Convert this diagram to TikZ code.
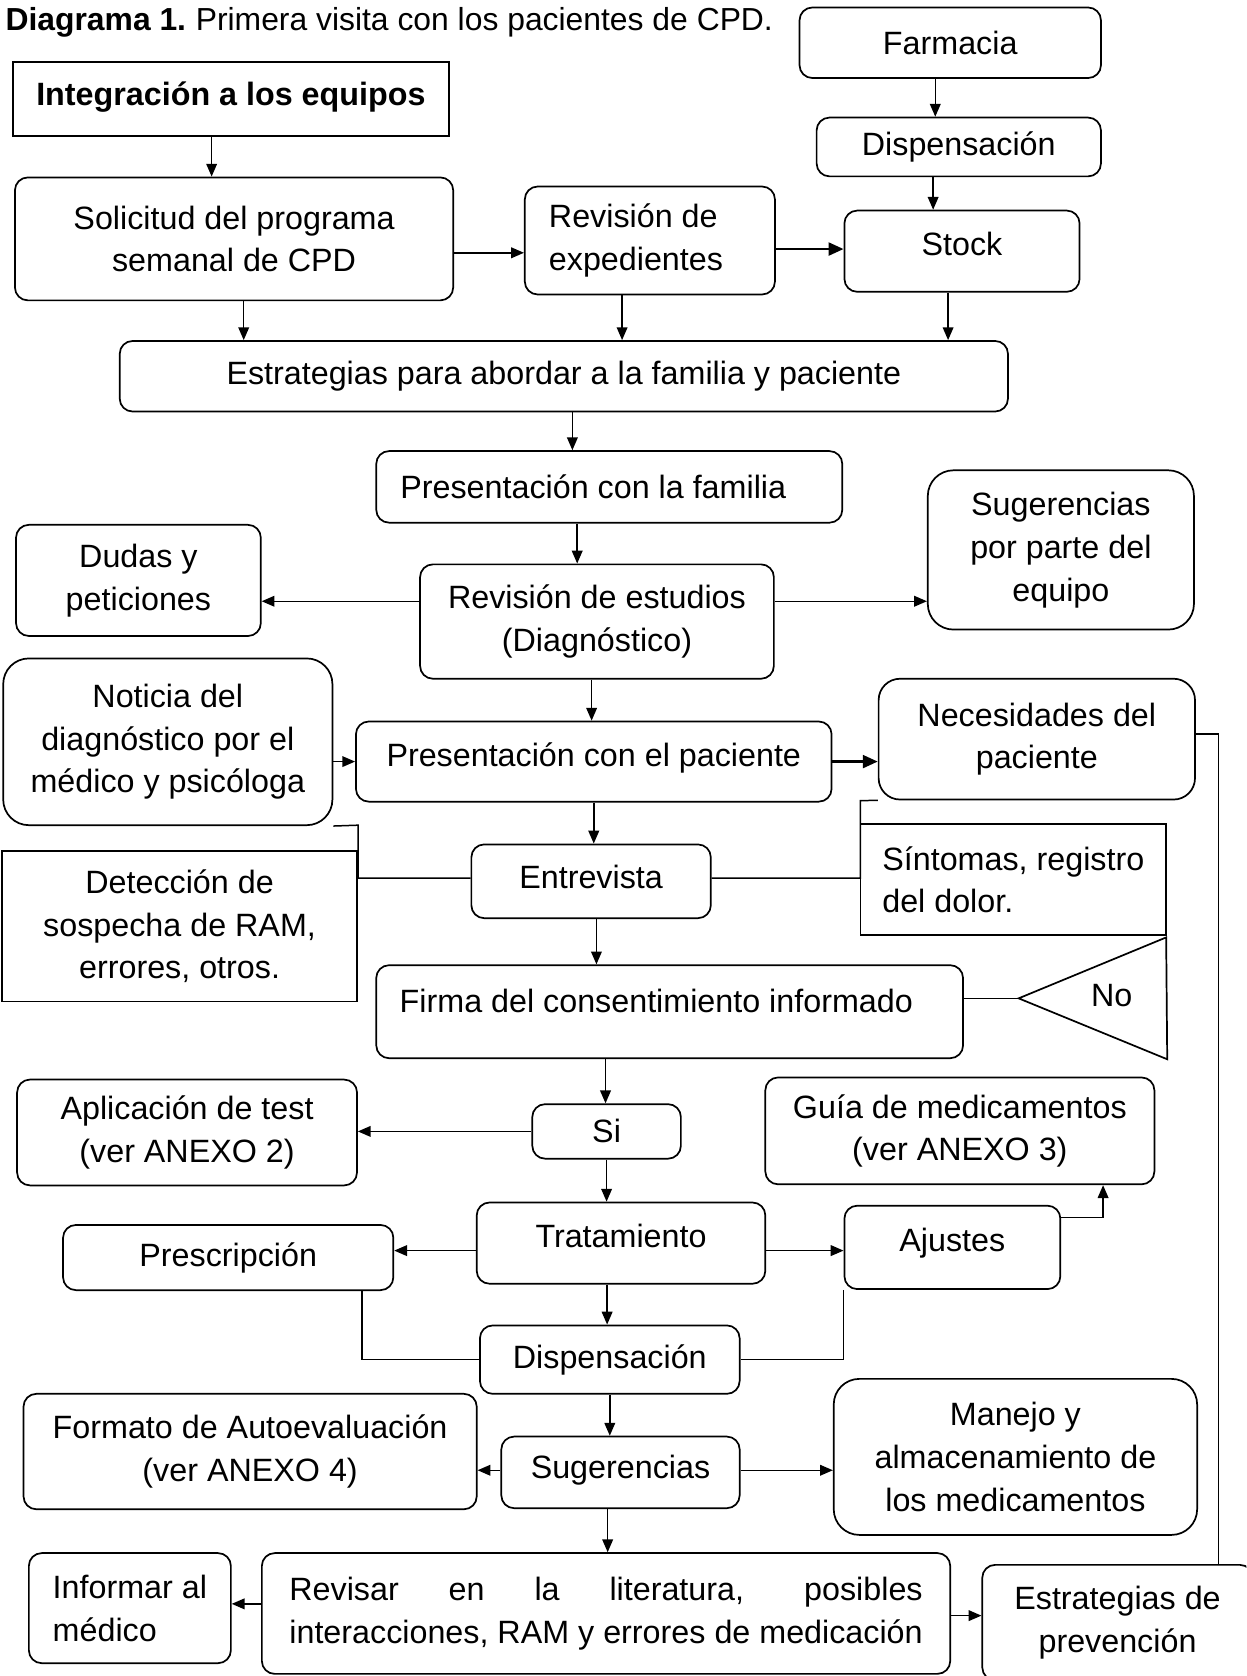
\documentclass[tikz,border=0pt]{standalone}
\usepackage{fontspec}
\setmainfont{Liberation Sans}
\usepackage{calc}
\usetikzlibrary{arrows.meta}

\tikzset{
    every node/.style={font=\fontsize{30.2pt}{40pt}\selectfont},
    box/.style={draw, line width=1.6pt, rounded corners=12pt, inner sep=0pt, align=center},
    bigbox/.style={box, rounded corners=24pt},
    sqbox/.style={draw, line width=1.6pt, inner sep=0pt, align=center},
    lift/.style={text height=22pt, text depth=#1},
    arr/.style={line width=1.4pt, -{Triangle[length=12pt, width=10pt]}},
    thickarr/.style={line width=2.6pt, -{Triangle[length=14pt, width=12pt]}},
    link/.style={line width=1.4pt}
}

\begin{document}
\begin{tikzpicture}[x=1pt, y=-1pt]
    \useasboundingbox (0,0) rectangle (1166,1568);
    \clip (0,0) rectangle (1166,1568);

    % Title
    \node[anchor=base west, inner sep=0pt, font=\fontsize{29.8pt}{40pt}\selectfont] (title) at (5,29) {\textbf{Diagrama 1.}\hspace{-2pt} Primera visita con los pacientes de CPD.};

    % Top
    \node[sqbox, lift=10pt, minimum width=408, minimum height=69] (integ) at (216,92.5) {\textbf{Integración a los equipos}};
    \node[box, minimum width=282, minimum height=66] (farm) at (889,40) {Farmacia};
    \node[box, minimum width=266, minimum height=55] (disp1) at (897,137.5) {Dispensación};
    \node[box, lift=14pt, minimum width=220, minimum height=76] (stock) at (900,235) {Stock};
    \node[box, minimum width=410, minimum height=115] (solic) at (219,223.5) {Solicitud del programa\\semanal de CPD};
    \node[box, align=left, minimum width=234, minimum height=101] (revexp) at (608,225) {Revisión de\\expedientes\hspace*{26pt}};
    \node[box, minimum width=831, minimum height=66] (estr) at (527.5,352) {Estrategias para abordar a la familia y paciente};

    % Family
    \node[box, minimum width=436, minimum height=67] (presfam) at (570,455.5) {Presentación con la familia\hspace*{30pt}};
    \node[box, minimum width=229, minimum height=104] (dudas) at (129.5,543) {Dudas y\\peticiones};
    \node[box, minimum width=331, minimum height=107] (revest) at (558.5,581.5) {Revisión de estudios\\(Diagnóstico)};
    \node[bigbox, minimum width=249, minimum height=149] (sugeq) at (992.5,514.5) {Sugerencias\\por parte del\\equipo};

    % Patient
    \node[bigbox, minimum width=308, minimum height=156] (noticia) at (157,694) {Noticia del\\diagnóstico por el\\médico y psicóloga};
    \node[box, lift=12pt, minimum width=445, minimum height=75] (prespac) at (555.5,712.5) {Presentación con el paciente};
    \node[bigbox, rounded corners=20pt, minimum width=296, minimum height=113] (necesid) at (970,691.5) {Necesidades del\\paciente};
    \node[box, lift=8pt, minimum width=224, minimum height=69] (entrev) at (553,824.5) {Entrevista};
    \node[sqbox, minimum width=332, minimum height=141] (detecc) at (168,866.5) {Detección de\\sospecha de RAM,\\errores, otros.};
    \node[sqbox, align=left, minimum width=286, minimum height=104] (sintom) at (948,823) {Síntomas, registro\\del dolor.};
    \node[box, lift=20pt, minimum width=549, minimum height=87] (firma) at (626.5,946.5) {Firma del consentimiento informado\hspace*{25pt}};

    % No
    \coordinate (notip) at (953,934);
    \coordinate (notop) at (1091,877);
    \coordinate (nobot) at (1092,991);
    \draw[line width=1.6pt] (notip) -- (notop) -- (nobot) -- cycle;
    \node (no) at (1040,931) {No};

    % Si
    \node[box, minimum width=139, minimum height=51] (si) at (567.5,1058.5) {Si};
    \node[box, minimum width=318, minimum height=99] (aplic) at (175,1059.5) {Aplicación de test\\(ver ANEXO 2)};
    \node[box, minimum width=364, minimum height=100] (guia) at (898,1058) {Guía de medicamentos\\(ver ANEXO 3)};
    \node[box, lift=14pt, minimum width=270, minimum height=76] (trat) at (581,1163) {Tratamiento};
    \node[box, minimum width=309, minimum height=61] (presc) at (213.5,1176.5) {Prescripción};
    \node[box, lift=14pt, minimum width=202, minimum height=78] (ajustes) at (891,1167) {Ajustes};
    \node[box, minimum width=243, minimum height=64] (disp2) at (570.5,1272) {Dispensación};
    \node[box, minimum width=424, minimum height=108] (formato) at (234,1358) {Formato de Autoevaluación\\(ver ANEXO 4)};
    \node[box, lift=10pt, minimum width=223, minimum height=67] (suger) at (580.5,1377.5) {Sugerencias};
    \node[bigbox, minimum width=340, minimum height=146] (manejo) at (950,1363) {Manejo y\\almacenamiento de\\los medicamentos};

    % Bottom
    \node[box, align=left, minimum width=189, minimum height=103] (informar) at (121.5,1504.5) {Informar al\\médico};
    \node[box, align=left, minimum width=644, minimum height=113] (revisar) at (567,1509.5) {\makebox[\widthof{interacciones, RAM y errores de medicación}][s]{Revisar en la literatura, posibles}\\interacciones, RAM y errores de medicación};
    \node[box, minimum width=253, minimum height=108] (prevenc) at (1045.5,1518) {Estrategias de\\prevención};

    % Arrows top
    \draw[arr] ([xshift=-14pt]farm.south) -- ([xshift=-14pt]farm.south |- disp1.north);
    \draw[arr] ([xshift=-24pt]disp1.south) -- ([xshift=-24pt]disp1.south |- stock.north);
    \draw[arr] ([xshift=-18pt]integ.south) -- ([xshift=-18pt]integ.south |- solic.north);
    \draw[arr] ([yshift=-13pt]solic.east) -- ([yshift=-13pt]solic.east -| revexp.west);
    \draw[thickarr] ([yshift=-8pt]revexp.east) -- ([yshift=-8pt]revexp.east -| stock.west);
    \draw[arr] ([xshift=9pt]solic.south) -- ([xshift=9pt]solic.south |- estr.north);
    \draw[arr] ([xshift=-26pt]revexp.south) -- ([xshift=-26pt]revexp.south |- estr.north);
    \draw[arr] ([xshift=-13pt]stock.south) -- ([xshift=-13pt]stock.south |- estr.north);
    \draw[arr] ([xshift=8pt]estr.south) -- ([xshift=8pt]estr.south |- presfam.north);
    \draw[arr] ([xshift=-30pt]presfam.south) -- ([xshift=-30pt]presfam.south |- revest.north);
    \draw[arr] ([yshift=19pt]revest.west) -- ([yshift=19pt]revest.west -| dudas.east);
    \draw[arr] ([yshift=19pt]revest.east) -- ([yshift=19pt]revest.east -| sugeq.west);

    % Arrows patient
    \draw[arr] ([xshift=-5pt]revest.south) -- ([xshift=-5pt]revest.south |- prespac.north);
    \draw[arr] (noticia.east |- prespac.west) -- (prespac.west);
    \draw[thickarr] (prespac.east) -- (prespac.east -| necesid.west);
    \draw[arr] (prespac.south) -- (prespac.south |- entrev.north);
    \draw[arr] ([xshift=5pt]entrev.south) -- ([xshift=5pt]entrev.south |- firma.north);
    \coordinate (nl) at (335,772);
    \draw[link] ([yshift=3pt]entrev.west) -| (nl) -- (noticia.south east);
    \coordinate (nr) at (805,749);
    \draw[link] ([yshift=3pt]entrev.east) -| (nr) -- (necesid.south west);
    \draw[link] (firma.east |- notip) -- (notip);
    \coordinate (pr) at (1140,1464);
    \draw[link] ([yshift=5pt]necesid.east) -| (pr);

    % Arrows treatment
    \draw[arr] ([xshift=-60pt]firma.south) -- ([xshift=-60pt]firma.south |- si.north);
    \draw[arr] (si.west) -- (si.west -| aplic.east);
    \draw[arr] (si.south) -- (si.south |- trat.north);
    \draw[arr] ([yshift=-7pt]trat.west) -- ([yshift=-7pt]trat.west -| presc.east);
    \draw[arr] ([yshift=-7pt]trat.east) -- ([yshift=-7pt]trat.east -| ajustes.west);
    \draw[arr] ([yshift=28pt]ajustes.east) -| ([xshift=134pt]guia.south);
    \draw[arr] ([xshift=-13pt]trat.south) -- ([xshift=-13pt]trat.south |- disp2.north);
    \draw[link] (disp2.west) -| ([xshift=125pt]presc.south);
    \draw[link] (disp2.east) -| (ajustes.south west);
    \draw[arr] (disp2.south) -- (disp2.south |- suger.north);
    \draw[arr] ([yshift=2pt]suger.west) -- ([yshift=2pt]suger.west -| formato.east);
    \draw[arr] ([yshift=2pt]suger.east) -- ([yshift=2pt]suger.east -| manejo.west);
    \draw[arr] ([xshift=-12pt]suger.south) -- ([xshift=-12pt]suger.south |- revisar.north);
    \draw[arr] ([yshift=9pt]revisar.west) -- ([yshift=9pt]revisar.west -| informar.east);
    \draw[arr] ([yshift=-2pt]revisar.east) -- ([yshift=-2pt]revisar.east -| prevenc.west);
\end{tikzpicture}
\end{document}
